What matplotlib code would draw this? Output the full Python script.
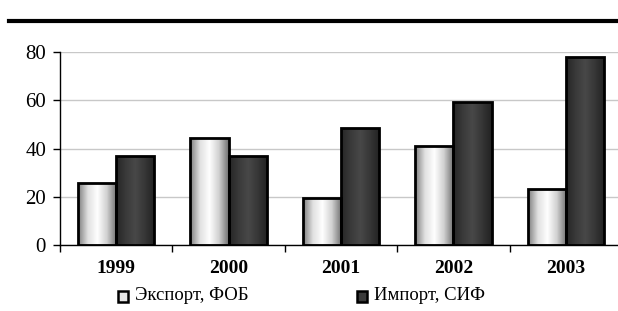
import numpy as np
import matplotlib.pyplot as plt
from matplotlib.colors import LinearSegmentedColormap
from matplotlib.lines import Line2D

years = ['1999', '2000', '2001', '2002', '2003']
export_fob = [25.5, 44.2, 19.4, 41.0, 23.3]
import_cif = [37.0, 36.9, 48.6, 59.3, 78.0]
labels = ['Экспорт, ФОБ', 'Импорт, СИФ']

plt.rcParams['font.family'] = ['Liberation Serif', 'DejaVu Serif']

fig = plt.figure(figsize=(6.18, 3.11), dpi=100)
ax = fig.add_axes([60 / 618, 66 / 311, 562 / 618, 193 / 311])

x = np.arange(len(years))
w = 0.34

light = LinearSegmentedColormap.from_list(
    'light', ['#808080', '#e0e0e0', '#ffffff', '#d0d0d0', '#707070'])
dark = LinearSegmentedColormap.from_list(
    'dark', ['#262626', '#3a3a3a', '#484848', '#363636', '#222222'])
grad = np.linspace(0, 1, 64).reshape(1, -1)


def gradient_bars(bars, cmap):
    for b in bars:
        x0, y0 = b.get_x(), b.get_y()
        im = ax.imshow(grad, cmap=cmap, aspect='auto', zorder=2.5,
                       extent=[x0, x0 + b.get_width(), y0, y0 + b.get_height()])
        im.set_clip_path(b)


b1 = ax.bar(x - w / 2, export_fob, w, facecolor='none', edgecolor='black',
            linewidth=2, zorder=3)
b2 = ax.bar(x + w / 2, import_cif, w, facecolor='none', edgecolor='black',
            linewidth=2, zorder=3)
gradient_bars(b1, light)
gradient_bars(b2, dark)

ax.set_xlim(-0.5, len(years) - 0.5)
ax.set_ylim(0, 80)
ax.set_yticks([0, 20, 40, 60, 80])
ax.yaxis.grid(True, color='#c8c8c8', linewidth=1)
ax.set_axisbelow(True)

ax.set_xticks(x)
ax.set_xticklabels(years, fontweight='bold', fontsize=14)
ax.set_xticks(np.arange(len(years)) - 0.5, minor=True)
ax.tick_params(axis='x', which='major', length=0, pad=11)
ax.tick_params(axis='x', which='minor', length=5, width=1, direction='out')
ax.tick_params(axis='y', length=5, width=1, labelsize=15, pad=5)

for s in ['top', 'right']:
    ax.spines[s].set_visible(False)
ax.spines['left'].set_linewidth(1)
ax.spines['bottom'].set_linewidth(1)

# legend squares and text
fig.add_artist(plt.Rectangle((118 / 618, 1 - 302 / 311), 10 / 618, 11 / 311,
                             transform=fig.transFigure, facecolor='#e6e6e6',
                             edgecolor='black', linewidth=1.8))
fig.text(135 / 618, 1 - 296 / 311, labels[0], fontsize=13.5, va='center')
fig.add_artist(plt.Rectangle((357 / 618, 1 - 302 / 311), 10 / 618, 11 / 311,
                             transform=fig.transFigure, facecolor='#3a3a3a',
                             edgecolor='black', linewidth=1.8))
fig.text(374 / 618, 1 - 296 / 311, labels[1], fontsize=13.5, va='center')

# thick rule at top
fig.add_artist(Line2D([9 / 618, 1], [1 - 21 / 311, 1 - 21 / 311],
                      transform=fig.transFigure, color='black', linewidth=3))

fig.savefig('out.png', dpi=100)
